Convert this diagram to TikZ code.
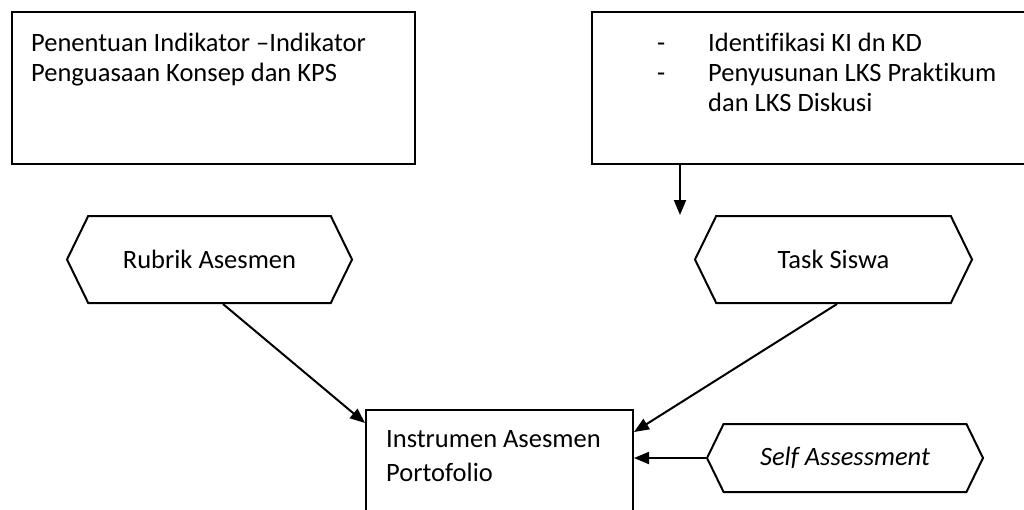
\documentclass[tikz,border=0pt]{standalone}
\usepackage{fontspec}
\setmainfont[Ligatures=NoCommon]{Carlito}
\usetikzlibrary{arrows.meta,shapes.symbols}
\tikzset{
    kotak/.style={draw, line width=2pt, rectangle, inner sep=0pt},
    heksa/.style={draw, line width=2pt, shape=signal, signal to=west and east,
        signal pointer angle=128, inner sep=0pt},
    panah/.style={line width=2pt, -{Triangle[length=15pt,width=12pt]}},
    teks/.style={anchor=north west, align=left, inner sep=0pt},
}

\begin{document}
\begin{tikzpicture}[x=1pt, y=-1pt, font=\fontsize{26.5}{30}\selectfont]
\clip (0,0) rectangle (1024,509);
\fill[white] (0,0) rectangle (1024,509);

% kotak atas
\node[kotak, anchor=north west, minimum width=403pt, minimum height=152pt] (indikator) at (11,11) {};
\node[teks] (indikatorteks) at (31,33) {Penentuan Indikator --Indikator\\Penguasaan Konsep dan KPS};
\node[kotak, anchor=north west, minimum width=460pt, minimum height=152pt] (rencana) at (591,11) {};
\node[teks] (rencanateks) at (657,33) {\makebox[51pt][l]{-}Identifikasi KI dn KD\\
    \makebox[51pt][l]{-}Penyusunan LKS Praktikum\\
    \hspace*{51pt}dan LKS Diskusi};
\coordinate (tugasmasuk) at (680,215);

% heksagon
\node[heksa, minimum width=285pt, minimum height=87pt] (rubrik) at (209.5,259.5) {Rubrik Asesmen};
\node[heksa, minimum width=277pt, minimum height=87pt] (tugas) at (833.5,259.5) {Task Siswa};
\node[heksa, minimum width=276pt, minimum height=68pt] (mandiri) at (845,458) {\itshape Self Assessment};

% kotak bawah
\node[kotak, anchor=north west, minimum width=267pt, minimum height=140pt] (porto) at (365,409) {};
\node[teks, font=\fontsize{26.5}{34}\selectfont] (portoteks) at (386,430) {Instrumen Asesmen\\Portofolio};

\draw[panah] ([xshift=89pt]rencana.south west) -- (tugasmasuk);
\draw[panah] ([xshift=13.5pt]rubrik.south) -- ([yshift=-14pt]porto.north west);
\draw[panah] ([xshift=3.5pt]tugas.south) -- ([yshift=-23pt]porto.north east);
\draw[panah] (mandiri.west) -- (mandiri.west -| porto.east);
\end{tikzpicture}
\end{document}
